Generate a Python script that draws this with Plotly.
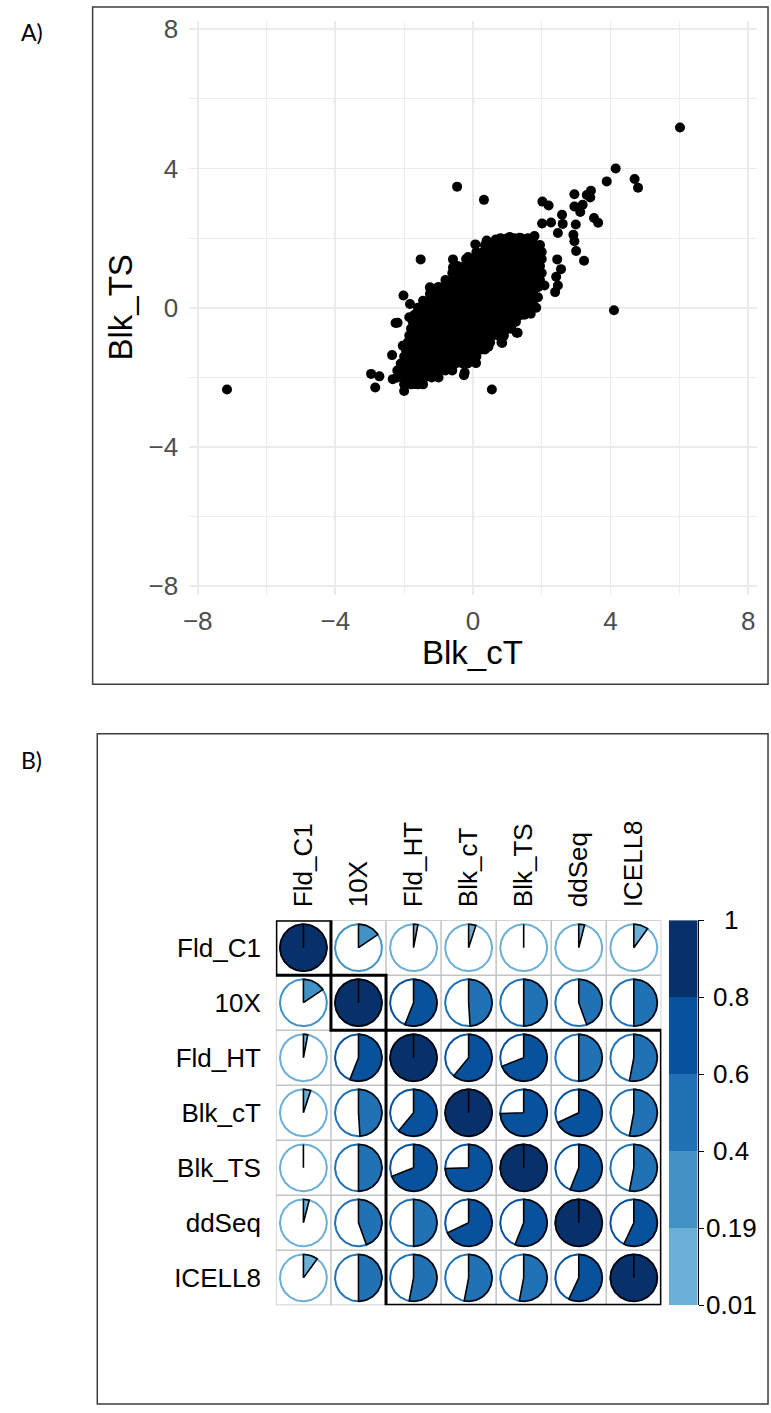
import numpy as np
import plotly.graph_objects as go

W, H = 771, 1413

# ---------------- Panel A data (Blk_cT vs Blk_TS) ----------------
# dense core of the cloud, read row by row (y level -> x values)
cluster_rows_y = [-2.2, -2.0, -1.8, -1.6, -1.4, -1.2, -1.0, -0.8, -0.6, -0.4, -0.2,
                  0.0, 0.2, 0.4, 0.6, 0.8, 1.0, 1.2, 1.4, 1.6, 1.8, 2.0]
cluster_rows_x = [
    [-2.0, -1.8, -1.6, -1.45],
    [-2.2, -2.0, -1.8, -1.6, -1.4, -1.2, -1.0],
    [-2.2, -2.0, -1.8, -1.6, -1.4, -1.2, -1.0, -0.8, -0.6],
    [-2.1, -1.9, -1.7, -1.5, -1.3, -1.1, -0.9, -0.7, -0.5, -0.3, -0.15],
    [-2.0, -1.8, -1.6, -1.4, -1.2, -1.0, -0.8, -0.6, -0.4, -0.2, 0.0, 0.1],
    [-1.95, -1.75, -1.55, -1.35, -1.15, -0.95, -0.75, -0.55, -0.35, -0.15, 0.05, 0.25, 0.35],
    [-1.9, -1.7, -1.5, -1.3, -1.1, -0.9, -0.7, -0.5, -0.3, -0.1, 0.1, 0.3, 0.5],
    [-1.85, -1.65, -1.45, -1.25, -1.05, -0.85, -0.65, -0.45, -0.25, -0.05, 0.15, 0.35, 0.55, 0.75, 0.9],
    [-1.8, -1.6, -1.4, -1.2, -1.0, -0.8, -0.6, -0.4, -0.2, 0.0, 0.2, 0.4, 0.6, 0.8, 1.0, 1.1],
    [-1.75, -1.55, -1.35, -1.15, -0.95, -0.75, -0.55, -0.35, -0.15, 0.05, 0.25, 0.45, 0.65, 0.85, 1.05, 1.25],
    [-1.7, -1.5, -1.3, -1.1, -0.9, -0.7, -0.5, -0.3, -0.1, 0.1, 0.3, 0.5, 0.7, 0.9, 1.1, 1.3, 1.5],
    [-1.6, -1.4, -1.2, -1.0, -0.8, -0.6, -0.4, -0.2, 0.0, 0.2, 0.4, 0.6, 0.8, 1.0, 1.2, 1.4, 1.6],
    [-1.45, -1.25, -1.05, -0.85, -0.65, -0.45, -0.25, -0.05, 0.15, 0.35, 0.55, 0.75, 0.95, 1.15, 1.35, 1.55, 1.75],
    [-1.25, -1.05, -0.85, -0.65, -0.45, -0.25, -0.05, 0.15, 0.35, 0.55, 0.75, 0.95, 1.15, 1.35, 1.55, 1.75],
    [-1.0, -0.8, -0.6, -0.4, -0.2, 0.0, 0.2, 0.4, 0.6, 0.8, 1.0, 1.2, 1.4, 1.6, 1.8, 1.9],
    [-0.8, -0.6, -0.4, -0.2, 0.0, 0.2, 0.4, 0.6, 0.8, 1.0, 1.2, 1.4, 1.6, 1.8, 1.95],
    [-0.6, -0.4, -0.2, 0.0, 0.2, 0.4, 0.6, 0.8, 1.0, 1.2, 1.4, 1.6, 1.8, 2.0],
    [-0.45, -0.25, -0.05, 0.15, 0.35, 0.55, 0.75, 0.95, 1.15, 1.35, 1.55, 1.75, 1.95],
    [-0.2, 0.0, 0.2, 0.4, 0.6, 0.8, 1.0, 1.2, 1.4, 1.6, 1.8, 2.0],
    [0.1, 0.3, 0.5, 0.7, 0.9, 1.1, 1.3, 1.5, 1.7, 1.9, 2.0],
    [0.35, 0.55, 0.75, 0.95, 1.15, 1.35, 1.55, 1.75, 1.95],
    [0.8, 1.0, 1.2, 1.4, 1.6, 1.75],
]
# scattered points around the core and outliers
edge_x = [6.02, 4.15, 3.89, 4.70, 4.80, -0.46, 0.32, 4.10, -7.15, 0.55,
          2.95, 3.31, 3.43, 3.41, 3.19, 2.95, 3.12, 2.02, 2.20, 2.59,
          2.61, 2.99, 3.52, 3.64, 2.01, 2.27, 2.47, 2.92, 2.95, 3.00,
          3.23, 2.45, 2.56, 2.42, 2.47, 2.39, 2.08, 1.89, 1.84, 1.68,
          1.36, 1.12, 1.30, 0.83, 0.45, 0.09, -0.24, -1.52, -0.58, -0.58,
          -1.25, -2.02, -1.83, -2.19, -1.85, -2.04, -2.35, -2.96, -2.72, -2.33,
          -0.14, 0.07, 0.40, 0.66, 1.07, 1.36, 1.79, -2.84, -2.0, -1.70,
          -0.26, 0.45, 0.85, 1.27, -2.25, -1.24, -0.16]
edge_y = [5.18, 4.00, 3.63, 3.70, 3.45, 3.48, 3.10, -0.07, -2.35, -2.35,
          3.26, 3.24, 3.36, 3.17, 2.96, 2.91, 2.75, 3.05, 2.94, 2.67,
          2.41, 2.39, 2.58, 2.44, 2.42, 2.45, 2.15, 2.10, 1.91, 1.63,
          1.35, 1.39, 1.11, 0.89, 0.64, 0.45, 0.64, 0.30, 0.00, -0.17,
          -0.22, -0.50, -0.72, -1.00, -1.12, -1.59, -1.86, 1.39, 1.39, 1.16,
          0.59, 0.35, 0.11, -0.43, -0.27, -1.09, -1.36, -1.90, -1.97, -2.05,
          1.46, 1.82, 1.93, 1.96, 2.03, 2.01, 2.06, -2.29, -2.39, -2.19,
          -1.94, -1.04, -1.01, -0.72, -0.44, 0.57, 1.42]

ax_ticks = [-8, -4, 0, 4, 8]
ax_minor = [-6, -2, 2, 6]

# ---------------- Panel B data (correlation pies) ----------------
methods = ["Fld_C1", "10X", "Fld_HT", "Blk_cT", "Blk_TS", "ddSeq", "ICELL8"]
corr = [
    [1.00, 0.155, 0.03, 0.05, 0.00, 0.04, 0.10],
    [0.155, 1.00, 0.56, 0.49, 0.50, 0.445, 0.50],
    [0.03, 0.56, 1.00, 0.61, 0.69, 0.50, 0.53],
    [0.05, 0.49, 0.61, 1.00, 0.745, 0.68, 0.53],
    [0.00, 0.50, 0.69, 0.745, 1.00, 0.56, 0.53],
    [0.04, 0.445, 0.50, 0.68, 0.56, 1.00, 0.57],
    [0.10, 0.50, 0.53, 0.53, 0.53, 0.57, 1.00],
]
cluster_sizes = [1, 1, 5]
band_colors = ["#6BAED6", "#4292C6", "#2171B5", "#08519C", "#08306B"]
band_breaks = [0.12, 0.30, 0.545, 0.80]
cbar_labels = ["0.01", "0.19", "0.4", "0.6", "0.8", "1"]


def px(x):
    return x / W


def py(y):
    return 1 - y / H


FONT = "Liberation Sans, Arial, Helvetica, sans-serif"

fig = go.Figure()

# ---------------- Panel A ----------------
sx, sy = [], []
for yv, xs in zip(cluster_rows_y, cluster_rows_x):
    sx.extend(xs)
    sy.extend([yv] * len(xs))
sx.extend(edge_x)
sy.extend(edge_y)

fig.add_trace(go.Scatter(x=sx, y=sy, mode="markers",
                         marker=dict(color="black", size=10, line=dict(width=0)),
                         xaxis="x", yaxis="y", hoverinfo="skip"))

axA = dict(range=[-8.25, 8.25], tickvals=ax_ticks, showgrid=True,
           gridcolor="#EBEBEB", gridwidth=1.8, zeroline=False, showline=False,
           ticks="", tickfont=dict(size=26, color="#4D4D4D", family=FONT),
           minor=dict(tickvals=ax_minor, showgrid=True, gridcolor="#EBEBEB", gridwidth=0.9),
           fixedrange=True)

fig.update_layout(
    xaxis=dict(domain=[px(184.6), px(756.6)], anchor="y", ticklabelstandoff=8, **axA),
    yaxis=dict(domain=[py(594), py(14.7)], anchor="x", ticklabelstandoff=10, **axA),
)

# ---------------- Panel B ----------------
n = len(methods)
R = 0.425

# cell grid
gx, gy = [], []
for k in range(n + 1):
    b = k + 0.5
    gx += [b, b, None, 0.5, n + 0.5, None]
    gy += [0.5, n + 0.5, None, b, b, None]
fig.add_trace(go.Scatter(x=gx, y=gy, mode="lines", line=dict(color="#C4C4C4", width=1.5),
                         xaxis="x2", yaxis="y2", hoverinfo="skip"))

ring_x = {i: [] for i in range(len(band_colors))}
ring_y = {i: [] for i in range(len(band_colors))}
wed_x = {i: [] for i in range(len(band_colors))}
wed_y = {i: [] for i in range(len(band_colors))}
full = np.linspace(0, 2 * np.pi, 121)
for r in range(n):
    for c in range(n):
        v = corr[r][c]
        band = int(np.searchsorted(band_breaks, v, side="right"))
        cx, cy = c + 1, r + 1
        ring_x[band] += list(cx + R * np.sin(full)) + [None]
        ring_y[band] += list(cy - R * np.cos(full)) + [None]
        a = np.linspace(0, 2 * np.pi * v, max(2, int(120 * v) + 2))
        wed_x[band] += [cx] + list(cx + R * np.sin(a)) + [cx, None]
        wed_y[band] += [cy] + list(cy - R * np.cos(a)) + [cy, None]

for b, col in enumerate(band_colors):
    if ring_x[b]:
        fig.add_trace(go.Scatter(x=ring_x[b], y=ring_y[b], mode="lines",
                                 line=dict(color=col, width=2),
                                 xaxis="x2", yaxis="y2", hoverinfo="skip"))
for b, col in enumerate(band_colors):
    if wed_x[b]:
        fig.add_trace(go.Scatter(x=wed_x[b], y=wed_y[b], mode="lines", fill="toself",
                                 fillcolor=col, line=dict(color="black", width=1.6),
                                 xaxis="x2", yaxis="y2", hoverinfo="skip"))

# cluster rectangles
start = 0
shapes = []
for s in cluster_sizes:
    shapes.append(dict(type="rect", xref="x2", yref="y2",
                       x0=start + 0.5, x1=start + s + 0.5, y0=start + 0.5, y1=start + s + 0.5,
                       line=dict(color="black", width=3), layer="above"))
    start += s

fig.update_layout(
    xaxis2=dict(domain=[px(272), px(660.5)], anchor="y2", range=[0.5, n + 0.5], side="top",
                tickvals=list(range(1, n + 1)), ticktext=methods, tickangle=-90,
                showgrid=False, zeroline=False, showline=False, ticks="",
                ticklabelstandoff=12, tickfont=dict(size=26, color="black", family=FONT),
                fixedrange=True),
    yaxis2=dict(domain=[py(1310.5), py(922)], anchor="x2", range=[n + 0.5, 0.5],
                tickvals=list(range(1, n + 1)), ticktext=methods,
                showgrid=False, zeroline=False, showline=False, ticks="",
                ticklabelstandoff=14, tickfont=dict(size=26, color="black", family=FONT),
                fixedrange=True),
)

# colour legend bar
nb = len(band_colors)
cs = []
for i, col in enumerate(band_colors):
    cs.append([i / nb, col])
    cs.append([(i + 1) / nb, col])
fig.add_trace(go.Heatmap(z=[[i] for i in range(nb)], x=[0], y=[i + 0.5 for i in range(nb)],
                         colorscale=cs, zmin=-0.5, zmax=nb - 0.5, showscale=False,
                         xaxis="x3", yaxis="y3", hoverinfo="skip"))
fig.update_layout(
    xaxis3=dict(domain=[px(668), px(697)], anchor="y3", range=[-0.5, 0.5], visible=False,
                fixedrange=True),
    yaxis3=dict(domain=[py(1310.5), py(922)], anchor="x3", range=[0, nb], side="right",
                tickvals=list(range(nb + 1)), showticklabels=False, ticks="outside",
                ticklen=5, tickwidth=1.2, tickcolor="black", showline=True,
                linecolor="black", linewidth=1.2, showgrid=False, zeroline=False,
                fixedrange=True),
)

annotations = []
for i, lab in enumerate(cbar_labels):
    annotations.append(dict(x=px(731), y=i, xref="paper", yref="y3", text=lab,
                            showarrow=False, xanchor="center", yanchor="middle",
                            font=dict(size=26, color="black", family=FONT)))

# axis titles of panel A
annotations.append(dict(x=px(470.6), y=py(652), xref="paper", yref="paper", text="Blk_cT",
                        showarrow=False, xanchor="center", yanchor="middle",
                        font=dict(size=33, color="black", family=FONT)))
annotations.append(dict(x=px(115), y=py(304), xref="paper", yref="paper", text="Blk_TS",
                        showarrow=False, xanchor="center", yanchor="middle", textangle=-90,
                        font=dict(size=33, color="black", family=FONT)))
# panel letters
annotations.append(dict(x=px(26), y=py(26), xref="paper", yref="paper", text="A)",
                        showarrow=False, xanchor="center", yanchor="middle",
                        font=dict(size=23, color="black", family="Lato, Open Sans, sans-serif")))
annotations.append(dict(x=px(26), y=py(760), xref="paper", yref="paper", text="B)",
                        showarrow=False, xanchor="center", yanchor="middle",
                        font=dict(size=23, color="black", family="Lato, Open Sans, sans-serif")))

# panel frames
shapes.append(dict(type="rect", xref="paper", yref="paper", x0=px(87.3), x1=px(768),
                   y0=py(684), y1=py(1), line=dict(color="#3C3C3C", width=1.5)))
shapes.append(dict(type="rect", xref="paper", yref="paper", x0=px(92), x1=px(768),
                   y0=py(1410), y1=py(734), line=dict(color="#3C3C3C", width=1.5)))

fig.update_layout(width=W, height=H, autosize=False,
                  margin=dict(l=0, r=0, t=0, b=0),
                  paper_bgcolor="white", plot_bgcolor="white",
                  showlegend=False, hovermode=False,
                  annotations=annotations, shapes=shapes)

fig.write_html("out.html", config={"displayModeBar": False, "staticPlot": True},
               post_script="document.body.style.margin='0';document.body.style.overflow='hidden';")
